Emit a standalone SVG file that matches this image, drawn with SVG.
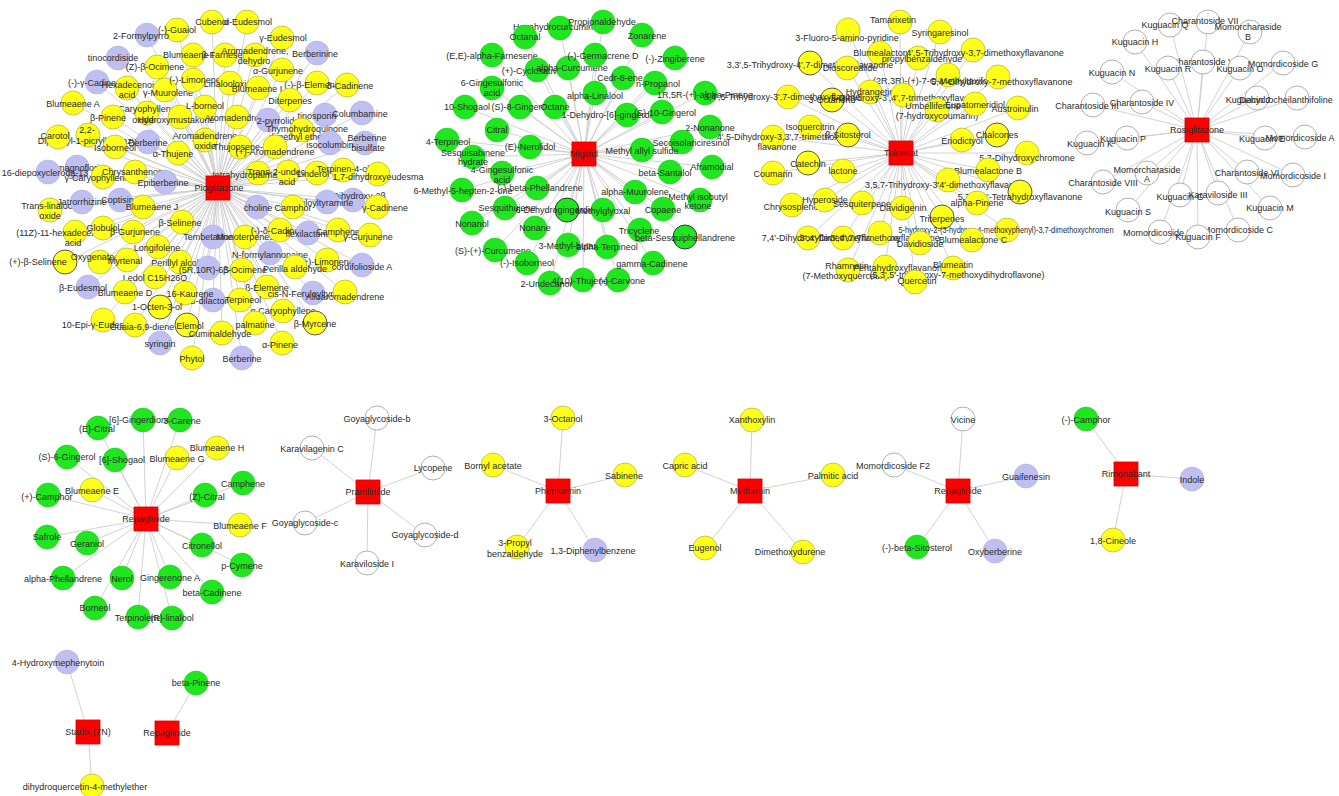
<svg xmlns="http://www.w3.org/2000/svg" width="1339" height="796" viewBox="0 0 1339 796">
<style>
.e line{stroke:#cdcdcd;stroke-width:0.9}
.y{fill:#ffff1a;stroke:#b8b840;stroke-width:0.8}
.yd{fill:#ffff1a;stroke:#555;stroke-width:1}
.p{fill:#bfbff2;stroke:#aeaee0;stroke-width:0.6}
.g{fill:#1fe61f;stroke:#1ac81a;stroke-width:0.6}
.gd{fill:#1fe61f;stroke:#333;stroke-width:1}
.w{fill:#fff;stroke:#9a9a9a;stroke-width:0.8}
.h{fill:#ff0000;stroke:#d40000;stroke-width:0.8}
text{font-family:"Liberation Sans",Arial,sans-serif;font-size:9px;fill:#2a2a2a;text-anchor:middle}
</style>
<rect width="1339" height="796" fill="#fff"/>
<g class="e" id="connectors">
<line x1="218" y1="188" x2="177" y2="30"/><line x1="218" y1="188" x2="147" y2="35"/><line x1="218" y1="188" x2="118" y2="58"/><line x1="218" y1="188" x2="157" y2="67"/><line x1="218" y1="188" x2="97" y2="82"/><line x1="218" y1="188" x2="127" y2="88"/><line x1="218" y1="188" x2="165" y2="90"/><line x1="218" y1="188" x2="193" y2="80"/><line x1="218" y1="188" x2="73" y2="103"/><line x1="218" y1="188" x2="147" y2="113"/><line x1="218" y1="188" x2="180" y2="117"/><line x1="218" y1="188" x2="113" y2="117"/><line x1="218" y1="188" x2="205" y2="107"/><line x1="218" y1="188" x2="88" y2="135"/><line x1="218" y1="188" x2="58" y2="137"/><line x1="218" y1="188" x2="115" y2="147"/><line x1="218" y1="188" x2="148" y2="142"/><line x1="218" y1="188" x2="178" y2="153"/><line x1="218" y1="188" x2="205" y2="140"/><line x1="218" y1="188" x2="77" y2="167"/><line x1="218" y1="188" x2="48" y2="172"/><line x1="218" y1="188" x2="103" y2="177"/><line x1="218" y1="188" x2="135" y2="172"/><line x1="218" y1="188" x2="165" y2="182"/><line x1="218" y1="188" x2="212" y2="22"/><line x1="218" y1="188" x2="247" y2="22"/><line x1="218" y1="188" x2="282" y2="38"/><line x1="218" y1="188" x2="193" y2="55"/><line x1="218" y1="188" x2="225" y2="55"/><line x1="218" y1="188" x2="255" y2="55"/><line x1="218" y1="188" x2="317" y2="53"/><line x1="218" y1="188" x2="282" y2="70"/><line x1="218" y1="188" x2="317" y2="83"/><line x1="218" y1="188" x2="347" y2="85"/><line x1="218" y1="188" x2="230" y2="83"/><line x1="218" y1="188" x2="258" y2="88"/><line x1="218" y1="188" x2="290" y2="100"/><line x1="218" y1="188" x2="325" y2="115"/><line x1="218" y1="188" x2="362" y2="113"/><line x1="218" y1="188" x2="237" y2="117"/><line x1="218" y1="188" x2="268" y2="120"/><line x1="218" y1="188" x2="302" y2="130"/><line x1="218" y1="188" x2="365" y2="143"/><line x1="218" y1="188" x2="330" y2="143"/><line x1="218" y1="188" x2="240" y2="147"/><line x1="218" y1="188" x2="275" y2="147"/><line x1="218" y1="188" x2="258" y2="173"/><line x1="218" y1="188" x2="288" y2="172"/><line x1="218" y1="188" x2="317" y2="173"/><line x1="218" y1="188" x2="343" y2="170"/><line x1="218" y1="188" x2="378" y2="174"/><line x1="218" y1="188" x2="353" y2="200"/><line x1="218" y1="188" x2="327" y2="202"/><line x1="218" y1="188" x2="293" y2="207"/><line x1="218" y1="188" x2="257" y2="207"/><line x1="218" y1="188" x2="377" y2="207"/><line x1="218" y1="188" x2="213" y2="237"/><line x1="218" y1="188" x2="245" y2="237"/><line x1="218" y1="188" x2="280" y2="230"/><line x1="218" y1="188" x2="308" y2="233"/><line x1="218" y1="188" x2="338" y2="230"/><line x1="218" y1="188" x2="370" y2="235"/><line x1="218" y1="188" x2="270" y2="253"/><line x1="218" y1="188" x2="327" y2="260"/><line x1="218" y1="188" x2="295" y2="267"/><line x1="218" y1="188" x2="362" y2="265"/><line x1="218" y1="188" x2="180" y2="262"/><line x1="218" y1="188" x2="208" y2="268"/><line x1="218" y1="188" x2="242" y2="270"/><line x1="218" y1="188" x2="267" y2="287"/><line x1="218" y1="188" x2="313" y2="293"/><line x1="218" y1="188" x2="345" y2="292"/><line x1="218" y1="188" x2="213" y2="300"/><line x1="218" y1="188" x2="240" y2="300"/><line x1="218" y1="188" x2="283" y2="311"/><line x1="218" y1="188" x2="315" y2="323"/><line x1="218" y1="188" x2="255" y2="323"/><line x1="218" y1="188" x2="187" y2="325"/><line x1="218" y1="188" x2="222" y2="333"/><line x1="218" y1="188" x2="282" y2="343"/><line x1="218" y1="188" x2="192" y2="358"/><line x1="218" y1="188" x2="242" y2="358"/><line x1="218" y1="188" x2="185" y2="293"/><line x1="218" y1="188" x2="50" y2="210"/><line x1="218" y1="188" x2="82" y2="202"/><line x1="218" y1="188" x2="120" y2="200"/><line x1="218" y1="188" x2="143" y2="207"/><line x1="218" y1="188" x2="182" y2="222"/><line x1="218" y1="188" x2="75" y2="232"/><line x1="218" y1="188" x2="103" y2="228"/><line x1="218" y1="188" x2="133" y2="232"/><line x1="218" y1="188" x2="158" y2="247"/><line x1="218" y1="188" x2="65" y2="262"/><line x1="218" y1="188" x2="100" y2="262"/><line x1="218" y1="188" x2="127" y2="260"/><line x1="218" y1="188" x2="155" y2="277"/><line x1="218" y1="188" x2="88" y2="287"/><line x1="218" y1="188" x2="125" y2="292"/><line x1="218" y1="188" x2="160" y2="307"/><line x1="218" y1="188" x2="103" y2="320"/><line x1="218" y1="188" x2="135" y2="325"/><line x1="218" y1="188" x2="160" y2="343"/>
<line x1="584" y1="154" x2="560" y2="28"/><line x1="584" y1="154" x2="603" y2="22"/><line x1="584" y1="154" x2="525" y2="37"/><line x1="584" y1="154" x2="492" y2="55"/><line x1="584" y1="154" x2="537" y2="70"/><line x1="584" y1="154" x2="568" y2="68"/><line x1="584" y1="154" x2="595" y2="55"/><line x1="584" y1="154" x2="492" y2="88"/><line x1="584" y1="154" x2="595" y2="93"/><line x1="584" y1="154" x2="465" y2="107"/><line x1="584" y1="154" x2="520" y2="107"/><line x1="584" y1="154" x2="555" y2="107"/><line x1="584" y1="154" x2="497" y2="130"/><line x1="584" y1="154" x2="447" y2="140"/><line x1="584" y1="154" x2="530" y2="147"/><line x1="584" y1="154" x2="473" y2="157"/><line x1="584" y1="154" x2="502" y2="173"/><line x1="584" y1="154" x2="462" y2="190"/><line x1="584" y1="154" x2="537" y2="188"/><line x1="584" y1="154" x2="505" y2="208"/><line x1="584" y1="154" x2="567" y2="210"/><line x1="584" y1="154" x2="603" y2="210"/><line x1="584" y1="154" x2="472" y2="223"/><line x1="584" y1="154" x2="535" y2="228"/><line x1="584" y1="154" x2="568" y2="245"/><line x1="584" y1="154" x2="607" y2="247"/><line x1="584" y1="154" x2="495" y2="250"/><line x1="584" y1="154" x2="527" y2="263"/><line x1="584" y1="154" x2="550" y2="283"/><line x1="584" y1="154" x2="583" y2="280"/><line x1="584" y1="154" x2="618" y2="280"/><line x1="584" y1="154" x2="642" y2="35"/><line x1="584" y1="154" x2="675" y2="58"/><line x1="584" y1="154" x2="623" y2="78"/><line x1="584" y1="154" x2="655" y2="83"/><line x1="584" y1="154" x2="705" y2="93"/><line x1="584" y1="154" x2="627" y2="115"/><line x1="584" y1="154" x2="662" y2="112"/><line x1="584" y1="154" x2="710" y2="127"/><line x1="584" y1="154" x2="682" y2="142"/><line x1="584" y1="154" x2="642" y2="150"/><line x1="584" y1="154" x2="712" y2="167"/><line x1="584" y1="154" x2="670" y2="172"/><line x1="584" y1="154" x2="635" y2="192"/><line x1="584" y1="154" x2="700" y2="200"/><line x1="584" y1="154" x2="663" y2="209"/><line x1="584" y1="154" x2="640" y2="230"/><line x1="584" y1="154" x2="685" y2="237"/><line x1="584" y1="154" x2="653" y2="263"/>
<line x1="901" y1="153" x2="900" y2="22"/><line x1="901" y1="153" x2="848" y2="30"/><line x1="901" y1="153" x2="880" y2="53"/><line x1="901" y1="153" x2="918" y2="58"/><line x1="901" y1="153" x2="973" y2="50"/><line x1="901" y1="153" x2="810" y2="63"/><line x1="901" y1="153" x2="847" y2="68"/><line x1="901" y1="153" x2="940" y2="32"/><line x1="901" y1="153" x2="948" y2="75"/><line x1="901" y1="153" x2="998" y2="77"/><line x1="901" y1="153" x2="870" y2="92"/><line x1="901" y1="153" x2="832" y2="100"/><line x1="901" y1="153" x2="788" y2="97"/><line x1="901" y1="153" x2="903" y2="95"/><line x1="901" y1="153" x2="937" y2="110"/><line x1="901" y1="153" x2="975" y2="104"/><line x1="901" y1="153" x2="1018" y2="108"/><line x1="901" y1="153" x2="810" y2="127"/><line x1="901" y1="153" x2="773" y2="137"/><line x1="901" y1="153" x2="848" y2="135"/><line x1="901" y1="153" x2="808" y2="163"/><line x1="901" y1="153" x2="773" y2="173"/><line x1="901" y1="153" x2="843" y2="171"/><line x1="901" y1="153" x2="962" y2="140"/><line x1="901" y1="153" x2="997" y2="135"/><line x1="901" y1="153" x2="1027" y2="153"/><line x1="901" y1="153" x2="988" y2="170"/><line x1="901" y1="153" x2="948" y2="180"/><line x1="901" y1="153" x2="1020" y2="192"/><line x1="901" y1="153" x2="977" y2="203"/><line x1="901" y1="153" x2="902" y2="208"/><line x1="901" y1="153" x2="792" y2="205"/><line x1="901" y1="153" x2="825" y2="200"/><line x1="901" y1="153" x2="862" y2="203"/><line x1="901" y1="153" x2="942" y2="217"/><line x1="901" y1="153" x2="1007" y2="230"/><line x1="901" y1="153" x2="808" y2="238"/><line x1="901" y1="153" x2="843" y2="238"/><line x1="901" y1="153" x2="880" y2="233"/><line x1="901" y1="153" x2="920" y2="243"/><line x1="901" y1="153" x2="972" y2="240"/><line x1="901" y1="153" x2="848" y2="270"/><line x1="901" y1="153" x2="885" y2="267"/><line x1="901" y1="153" x2="953" y2="268"/><line x1="901" y1="153" x2="915" y2="282"/>
<line x1="1197" y1="130" x2="1170" y2="25"/><line x1="1197" y1="130" x2="1208" y2="22"/><line x1="1197" y1="130" x2="1250" y2="32"/><line x1="1197" y1="130" x2="1135" y2="42"/><line x1="1197" y1="130" x2="1203" y2="62"/><line x1="1197" y1="130" x2="1168" y2="68"/><line x1="1197" y1="130" x2="1240" y2="68"/><line x1="1197" y1="130" x2="1283" y2="63"/><line x1="1197" y1="130" x2="1112" y2="72"/><line x1="1197" y1="130" x2="1093" y2="105"/><line x1="1197" y1="130" x2="1142" y2="102"/><line x1="1197" y1="130" x2="1257" y2="98"/><line x1="1197" y1="130" x2="1297" y2="98"/><line x1="1197" y1="130" x2="1087" y2="143"/><line x1="1197" y1="130" x2="1127" y2="138"/><line x1="1197" y1="130" x2="1265" y2="138"/><line x1="1197" y1="130" x2="1305" y2="137"/><line x1="1197" y1="130" x2="1147" y2="173"/><line x1="1197" y1="130" x2="1103" y2="182"/><line x1="1197" y1="130" x2="1247" y2="172"/><line x1="1197" y1="130" x2="1293" y2="175"/><line x1="1197" y1="130" x2="1180" y2="195"/><line x1="1197" y1="130" x2="1218" y2="193"/><line x1="1197" y1="130" x2="1270" y2="208"/><line x1="1197" y1="130" x2="1128" y2="210"/><line x1="1197" y1="130" x2="1238" y2="230"/><line x1="1197" y1="130" x2="1160" y2="232"/><line x1="1197" y1="130" x2="1198" y2="237"/>
<line x1="146" y1="519" x2="98" y2="428"/><line x1="146" y1="519" x2="143" y2="420"/><line x1="146" y1="519" x2="180" y2="420"/><line x1="146" y1="519" x2="67" y2="457"/><line x1="146" y1="519" x2="115" y2="460"/><line x1="146" y1="519" x2="177" y2="458"/><line x1="146" y1="519" x2="217" y2="448"/><line x1="146" y1="519" x2="92" y2="490"/><line x1="146" y1="519" x2="48" y2="495"/><line x1="146" y1="519" x2="243" y2="483"/><line x1="146" y1="519" x2="205" y2="495"/><line x1="146" y1="519" x2="240" y2="525"/><line x1="146" y1="519" x2="47" y2="537"/><line x1="146" y1="519" x2="87" y2="543"/><line x1="146" y1="519" x2="202" y2="545"/><line x1="146" y1="519" x2="242" y2="565"/><line x1="146" y1="519" x2="63" y2="578"/><line x1="146" y1="519" x2="122" y2="578"/><line x1="146" y1="519" x2="170" y2="577"/><line x1="146" y1="519" x2="212" y2="592"/><line x1="146" y1="519" x2="95" y2="608"/><line x1="146" y1="519" x2="138" y2="617"/><line x1="146" y1="519" x2="172" y2="618"/>
<line x1="368" y1="492" x2="377" y2="418"/><line x1="368" y1="492" x2="312" y2="448"/><line x1="368" y1="492" x2="433" y2="468"/><line x1="368" y1="492" x2="305" y2="523"/><line x1="368" y1="492" x2="425" y2="535"/><line x1="368" y1="492" x2="367" y2="563"/>
<line x1="558" y1="491" x2="563" y2="418"/><line x1="558" y1="491" x2="493" y2="465"/><line x1="558" y1="491" x2="625" y2="475"/><line x1="558" y1="491" x2="517" y2="547"/><line x1="558" y1="491" x2="595" y2="550"/>
<line x1="750" y1="491" x2="752" y2="420"/><line x1="750" y1="491" x2="685" y2="465"/><line x1="750" y1="491" x2="833" y2="475"/><line x1="750" y1="491" x2="705" y2="548"/><line x1="750" y1="491" x2="803" y2="552"/>
<line x1="958" y1="491" x2="963" y2="419"/><line x1="958" y1="491" x2="894" y2="465"/><line x1="958" y1="491" x2="1026" y2="476"/><line x1="958" y1="491" x2="917" y2="547"/><line x1="958" y1="491" x2="995" y2="551"/>
<line x1="1126" y1="474" x2="1086" y2="419"/><line x1="1126" y1="474" x2="1192" y2="479"/><line x1="1126" y1="474" x2="1113" y2="540"/>
<line x1="88" y1="732" x2="67" y2="662"/><line x1="88" y1="732" x2="92" y2="786"/><line x1="167" y1="733" x2="196" y2="683"/>
</g>

<g id="pioglitazone-nodes">
<g id="pio_1"><circle class="y" cx="177" cy="30" r="12"/><text x="177" y="33">(-)-Guaiol</text></g>
<g id="pio_2"><circle class="p" cx="147" cy="35" r="12"/><text x="141" y="39">2-Formylpyrro</text></g>
<g id="pio_3"><circle class="p" cx="118" cy="58" r="12"/><text x="113" y="61">tinocordiside</text></g>
<g id="pio_4"><circle class="y" cx="157" cy="67" r="12"/><text x="155" y="70">(Z)-β-Ocimene</text></g>
<g id="pio_5"><circle class="p" cx="97" cy="82" r="12"/><text x="97" y="86">(-)-γ-Cadinene</text></g>
<g id="pio_6"><circle class="y" cx="127" cy="88" r="12"/><text x="130" y="88">Hexadecenoic</text><text x="127" y="98">acid</text></g>
<g id="pio_7"><circle class="y" cx="165" cy="90" r="12"/><text x="168" y="96">γ-Muurolene</text></g>
<g id="pio_8"><circle class="y" cx="193" cy="80" r="12"/><text x="195" y="83">(-)-Limonene</text></g>
<g id="pio_9"><circle class="y" cx="73" cy="103" r="12"/><text x="73" y="107">Blumeaene A</text></g>
<g id="pio_10"><circle class="y" cx="147" cy="113" r="12"/><text x="147" y="112">Caryophyllene</text><text x="143" y="123">oxide</text></g>
<g id="pio_11"><circle class="y" cx="180" cy="117" r="12"/><text x="176" y="123">Hydroxymustakone</text></g>
<g id="pio_12"><circle class="y" cx="113" cy="117" r="12"/><text x="108" y="121">β-Pinene</text></g>
<g id="pio_13"><circle class="y" cx="205" cy="107" r="12"/><text x="205" y="109">L-borneol</text></g>
<g id="pio_14"><circle class="y" cx="88" cy="135" r="12"/><text x="87" y="133">2,2-</text><text x="88" y="144">Diphenyl-1-picrylhydrazyl</text></g>
<g id="pio_15"><circle class="y" cx="58" cy="137" r="12"/><text x="55" y="139">Carotol</text></g>
<g id="pio_16"><circle class="y" cx="115" cy="147" r="12"/><text x="115" y="151">Isoborneol</text></g>
<g id="pio_17"><circle class="p" cx="148" cy="142" r="12"/><text x="148" y="146">Berberine</text></g>
<g id="pio_18"><circle class="y" cx="178" cy="153" r="12"/><text x="173" y="157">α-Thujene</text></g>
<g id="pio_19"><circle class="y" cx="205" cy="140" r="12"/><text x="205" y="139">Aromadendrene</text><text x="205" y="149">oxide</text></g>
<g id="pio_20"><circle class="p" cx="77" cy="167" r="12"/><text x="83" y="171">magnoflorine</text></g>
<g id="pio_21"><circle class="p" cx="48" cy="172" r="12"/><text x="45" y="176">16-diepoxycleroda-13</text></g>
<g id="pio_22"><circle class="y" cx="103" cy="177" r="12"/><text x="97" y="181">γ-Caryophyllene</text></g>
<g id="pio_23"><circle class="y" cx="135" cy="172" r="12"/><text x="135" y="175">Chrysanthenone</text></g>
<g id="pio_24"><circle class="p" cx="165" cy="182" r="12"/><text x="163" y="186">Epiberberine</text></g>
<g id="pio_25"><circle class="y" cx="212" cy="22" r="12"/><text x="212" y="25">Cubenol</text></g>
<g id="pio_26"><circle class="y" cx="247" cy="22" r="12"/><text x="248" y="25">α-Eudesmol</text></g>
<g id="pio_27"><circle class="y" cx="282" cy="38" r="12"/><text x="283" y="41">γ-Eudesmol</text></g>
<g id="pio_28"><circle class="y" cx="193" cy="55" r="12"/><text x="190" y="58">Blumeaene B</text></g>
<g id="pio_29"><circle class="y" cx="225" cy="55" r="12"/><text x="227" y="58">β-Farnesene</text></g>
<g id="pio_30"><circle class="y" cx="255" cy="55" r="12"/><text x="255" y="54">Aromadendrene,</text><text x="254" y="64">dehydro</text></g>
<g id="pio_31"><circle class="p" cx="317" cy="53" r="12"/><text x="315" y="57">Berberinine</text></g>
<g id="pio_32"><circle class="y" cx="282" cy="70" r="12"/><text x="278" y="74">α-Gurjunene</text></g>
<g id="pio_33"><circle class="y" cx="317" cy="83" r="12"/><text x="312" y="88">(-)-β-Elemene</text></g>
<g id="pio_34"><circle class="y" cx="347" cy="85" r="12"/><text x="350" y="89">δ-Cadinene</text></g>
<g id="pio_35"><circle class="y" cx="230" cy="83" r="12"/><text x="230" y="87">Linalooloxide</text></g>
<g id="pio_36"><circle class="y" cx="258" cy="88" r="12"/><text x="257" y="92">Blumeaene I</text></g>
<g id="pio_37"><circle class="y" cx="290" cy="100" r="12"/><text x="290" y="104">Diterpenes</text></g>
<g id="pio_38"><circle class="p" cx="325" cy="115" r="12"/><text x="317" y="119">tinosporin</text></g>
<g id="pio_39"><circle class="p" cx="362" cy="113" r="12"/><text x="360" y="117">Columbamine</text></g>
<g id="pio_40"><circle class="y" cx="237" cy="117" r="12"/><text x="237" y="121">Aromadendrene</text></g>
<g id="pio_41"><circle class="p" cx="268" cy="120" r="12"/><text x="283" y="124">2-pyrrolidone</text></g>
<g id="pio_42"><circle class="y" cx="302" cy="130" r="12"/><text x="307" y="132">Thymohydroquinone</text><text x="297" y="140">dimethyl ether</text></g>
<g id="pio_43"><circle class="p" cx="365" cy="143" r="12"/><text x="367" y="141">Berberine</text><text x="368" y="151">bisulfate</text></g>
<g id="pio_44"><circle class="p" cx="330" cy="143" r="12"/><text x="330" y="148">isocolumbin</text></g>
<g id="pio_45"><circle class="y" cx="240" cy="147" r="12"/><text x="243" y="150">Thujopsene-13</text></g>
<g id="pio_46"><circle class="y" cx="275" cy="147" r="12"/><text x="275" y="155">(+)-Aromadendrene</text></g>
<g id="pio_47"><circle class="y" cx="258" cy="173" r="12"/><text x="252" y="178">tetrahydropalmatine</text></g>
<g id="pio_48"><circle class="y" cx="288" cy="172" r="12"/><text x="287" y="175">Trans-2-undecenoic</text><text x="287" y="185">acid</text></g>
<g id="pio_49"><circle class="y" cx="317" cy="173" r="12"/><text x="313" y="177">Linderol</text></g>
<g id="pio_50"><circle class="y" cx="343" cy="170" r="12"/><text x="343" y="172">Terpinen-4-ol</text></g>
<g id="pio_51"><circle class="y" cx="378" cy="174" r="12"/><text x="378" y="180">1,7-dihydroxyeudesma</text></g>
<g id="pio_52"><circle class="p" cx="353" cy="200" r="12"/><text x="355" y="199">1-Dihydroxy-2β</text></g>
<g id="pio_53"><circle class="p" cx="327" cy="202" r="12"/><text x="320" y="206">Feruloyltyramine</text></g>
<g id="pio_54"><circle class="y" cx="293" cy="207" r="12"/><text x="293" y="211">Camphor</text></g>
<g id="pio_55"><circle class="p" cx="257" cy="207" r="12"/><text x="258" y="211">choline</text></g>
<g id="pio_56"><circle class="y" cx="377" cy="207" r="12"/><text x="385" y="211">γ-Cadinene</text></g>
<g id="pio_57"><circle class="p" cx="213" cy="237" r="12"/><text x="208" y="240">Tembetarine</text></g>
<g id="pio_58"><circle class="y" cx="245" cy="237" r="12"/><text x="245" y="240">Monoterpenes</text></g>
<g id="pio_59"><circle class="y" cx="280" cy="230" r="12"/><text x="280" y="234">(-)-δ-Cadinene</text></g>
<g id="pio_60"><circle class="p" cx="308" cy="233" r="12"/><text x="308" y="237">flexilactone</text></g>
<g id="pio_61"><circle class="y" cx="338" cy="230" r="12"/><text x="338" y="235">Camphene</text></g>
<g id="pio_62"><circle class="y" cx="370" cy="235" r="12"/><text x="368" y="240">γ-Gurjunene</text></g>
<g id="pio_63"><circle class="p" cx="270" cy="253" r="12"/><text x="270" y="258">N-formylannonaine</text></g>
<g id="pio_64"><circle class="y" cx="327" cy="260" r="12"/><text x="327" y="265">(+)-Limonene</text></g>
<g id="pio_65"><circle class="y" cx="295" cy="267" r="12"/><text x="295" y="272">Perilla aldehyde</text></g>
<g id="pio_66"><circle class="p" cx="362" cy="265" r="12"/><text x="362" y="270">cordifolioside A</text></g>
<g id="pio_67"><circle class="y" cx="180" cy="262" r="12"/><text x="180" y="266">Perillyl alcohol</text></g>
<g id="pio_68"><circle class="p" cx="208" cy="268" r="12"/><text x="204" y="273">(5R,10R)-6S</text></g>
<g id="pio_69"><circle class="y" cx="242" cy="270" r="12"/><text x="245" y="273">β-Ocimene</text></g>
<g id="pio_70"><circle class="y" cx="267" cy="287" r="12"/><text x="267" y="291">β-Elemene</text></g>
<g id="pio_71"><circle class="p" cx="313" cy="293" r="12"/><text x="303" y="297">cis-N-Feruloyltyra</text></g>
<g id="pio_72"><circle class="y" cx="345" cy="292" r="12"/><text x="345" y="300">Alloaromadendrene</text></g>
<g id="pio_73"><circle class="p" cx="213" cy="300" r="12"/><text x="212" y="304">S-dilactone</text></g>
<g id="pio_74"><circle class="y" cx="240" cy="300" r="12"/><text x="243" y="303">Terpineol</text></g>
<g id="pio_75"><circle class="y" cx="283" cy="311" r="12"/><text x="283" y="314">α-Caryophyllene</text></g>
<g id="pio_76"><circle class="yd" cx="315" cy="323" r="12"/><text x="315" y="327">β-Myrcene</text></g>
<g id="pio_77"><circle class="y" cx="255" cy="323" r="12"/><text x="255" y="328">palmatine</text></g>
<g id="pio_78"><circle class="yd" cx="187" cy="325" r="12"/><text x="190" y="329">Elemol</text></g>
<g id="pio_79"><circle class="y" cx="222" cy="333" r="12"/><text x="220" y="337">Cuminaldehyde</text></g>
<g id="pio_80"><circle class="y" cx="282" cy="343" r="12"/><text x="280" y="348">α-Pinene</text></g>
<g id="pio_81"><circle class="y" cx="192" cy="358" r="12"/><text x="192" y="362">Phytol</text></g>
<g id="pio_82"><circle class="p" cx="242" cy="358" r="12"/><text x="242" y="362">Berberine</text></g>
<g id="pio_83"><circle class="y" cx="185" cy="293" r="12"/><text x="190" y="297">16-Kaurene</text></g>
<g id="pio_84"><circle class="y" cx="50" cy="210" r="12"/><text x="48" y="209">Trans-linalool</text><text x="50" y="219">oxide</text></g>
<g id="pio_85"><circle class="p" cx="82" cy="202" r="12"/><text x="82" y="205">Jatrorrhizine</text></g>
<g id="pio_86"><circle class="p" cx="120" cy="200" r="12"/><text x="120" y="203">Coptisine</text></g>
<g id="pio_87"><circle class="y" cx="143" cy="207" r="12"/><text x="152" y="210">Blumeaene J</text></g>
<g id="pio_88"><circle class="y" cx="182" cy="222" r="12"/><text x="180" y="226">β-Selinene</text></g>
<g id="pio_89"><circle class="y" cx="75" cy="232" r="12"/><text x="62" y="236">(11Z)-11-hexadecenoic</text><text x="73" y="246">acid</text></g>
<g id="pio_90"><circle class="y" cx="103" cy="228" r="12"/><text x="103" y="231">Globulol</text></g>
<g id="pio_91"><circle class="y" cx="133" cy="232" r="12"/><text x="135" y="235">β-Gurjunene</text></g>
<g id="pio_92"><circle class="y" cx="158" cy="247" r="12"/><text x="157" y="251">Longifolene</text></g>
<g id="pio_93"><circle class="yd" cx="65" cy="262" r="12"/><text x="38" y="265">(+)-β-Selinene</text></g>
<g id="pio_94"><circle class="y" cx="100" cy="262" r="12"/><text x="95" y="260">Oxygenated</text></g>
<g id="pio_95"><circle class="y" cx="127" cy="260" r="12"/><text x="125" y="264">Myrtenal</text></g>
<g id="pio_96"><circle class="y" cx="155" cy="277" r="12"/><text x="155" y="281">Ledol C15H26O</text></g>
<g id="pio_97"><circle class="p" cx="88" cy="287" r="12"/><text x="83" y="291">β-Eudesmol</text></g>
<g id="pio_98"><circle class="y" cx="125" cy="292" r="12"/><text x="125" y="296">Blumeaene D</text></g>
<g id="pio_99"><circle class="yd" cx="160" cy="307" r="12"/><text x="157" y="310">1-Octen-3-ol</text></g>
<g id="pio_100"><circle class="y" cx="103" cy="320" r="12"/><text x="100" y="328">10-Epi-γ-Eudesmol</text></g>
<g id="pio_101"><circle class="y" cx="135" cy="325" r="12"/><text x="142" y="330">Guaia-6,9-diene</text></g>
<g id="pio_102"><circle class="p" cx="160" cy="343" r="12"/><text x="160" y="347">syringin</text></g>
<g id="pio_hub"><rect class="h" x="206" y="176" width="24" height="24"/><text x="219" y="191">Pioglitazone</text></g>
</g>

<g id="miglitol-nodes">
<g id="mig_1"><circle class="g" cx="560" cy="28" r="12"/><text x="553" y="30">Hexahydrocurcumin</text></g>
<g id="mig_2"><circle class="g" cx="603" cy="22" r="12"/><text x="602" y="25">Propionaldehyde</text></g>
<g id="mig_3"><circle class="g" cx="525" cy="37" r="12"/><text x="525" y="40">Octanal</text></g>
<g id="mig_4"><circle class="g" cx="492" cy="55" r="12"/><text x="492" y="59">(E,E)-alpha-Farnesene</text></g>
<g id="mig_5"><circle class="g" cx="537" cy="70" r="12"/><text x="537" y="74">(+)-Cyclosativene</text></g>
<g id="mig_6"><circle class="g" cx="568" cy="68" r="12"/><text x="572" y="71">alpha-Curcumene</text></g>
<g id="mig_7"><circle class="g" cx="595" cy="55" r="12"/><text x="603" y="59">(-)-Germacrene D</text></g>
<g id="mig_8"><circle class="g" cx="492" cy="88" r="12"/><text x="492" y="86">6-Gingesulfonic</text><text x="492" y="96">acid</text></g>
<g id="mig_9"><circle class="g" cx="595" cy="93" r="12"/><text x="595" y="99">alpha-Linalool</text></g>
<g id="mig_10"><circle class="g" cx="465" cy="107" r="12"/><text x="467" y="110">10-Shogaol</text></g>
<g id="mig_11"><circle class="g" cx="520" cy="107" r="12"/><text x="520" y="110">(S)-8-Gingerol</text></g>
<g id="mig_12"><circle class="g" cx="555" cy="107" r="12"/><text x="555" y="110">Octane</text></g>
<g id="mig_13"><circle class="g" cx="497" cy="130" r="12"/><text x="497" y="133">Citral</text></g>
<g id="mig_14"><circle class="g" cx="447" cy="140" r="12"/><text x="448" y="145">4-Terpineol</text></g>
<g id="mig_15"><circle class="g" cx="530" cy="147" r="12"/><text x="530" y="150">(E)-Nerolidol</text></g>
<g id="mig_16"><circle class="g" cx="473" cy="157" r="12"/><text x="473" y="156">Sesquisabinene</text><text x="473" y="165">hydrate</text></g>
<g id="mig_17"><circle class="g" cx="502" cy="173" r="12"/><text x="502" y="173">4-Gingesulfonic</text><text x="502" y="183">acid</text></g>
<g id="mig_18"><circle class="g" cx="462" cy="190" r="12"/><text x="463" y="194">6-Methyl-5-hepten-2-one</text></g>
<g id="mig_19"><circle class="g" cx="537" cy="188" r="12"/><text x="540" y="191">(-)-beta-Phellandrene</text></g>
<g id="mig_20"><circle class="g" cx="505" cy="208" r="12"/><text x="507" y="211">Sesquithujene</text></g>
<g id="mig_21"><circle class="gd" cx="567" cy="210" r="12"/><text x="560" y="213">6-Dehydrogingerdione</text></g>
<g id="mig_22"><circle class="g" cx="603" cy="210" r="12"/><text x="603" y="214">Methylglyoxal</text></g>
<g id="mig_23"><circle class="g" cx="472" cy="223" r="12"/><text x="472" y="227">Nonanol</text></g>
<g id="mig_24"><circle class="g" cx="535" cy="228" r="12"/><text x="535" y="231">Nonane</text></g>
<g id="mig_25"><circle class="g" cx="568" cy="245" r="12"/><text x="572" y="249">3-Methyl-butanal</text></g>
<g id="mig_26"><circle class="g" cx="607" cy="247" r="12"/><text x="607" y="250">alpha-Terpineol</text></g>
<g id="mig_27"><circle class="g" cx="495" cy="250" r="12"/><text x="493" y="254">(S)-(+)-Curcumene</text></g>
<g id="mig_28"><circle class="g" cx="527" cy="263" r="12"/><text x="527" y="266">(-)-Isoborneol</text></g>
<g id="mig_29"><circle class="g" cx="550" cy="283" r="12"/><text x="550" y="287">2-Undecanone</text></g>
<g id="mig_30"><circle class="g" cx="583" cy="280" r="12"/><text x="580" y="284">4(10)-Thujene</text></g>
<g id="mig_31"><circle class="g" cx="618" cy="280" r="12"/><text x="622" y="284">(-)-Carvone</text></g>
<g id="mig_32"><circle class="g" cx="642" cy="35" r="12"/><text x="647" y="39">Zonarene</text></g>
<g id="mig_33"><circle class="g" cx="675" cy="58" r="12"/><text x="675" y="62">(-)-Zingiberene</text></g>
<g id="mig_34"><circle class="g" cx="623" cy="78" r="12"/><text x="620" y="81">Cedr-8-ene</text></g>
<g id="mig_35"><circle class="g" cx="655" cy="83" r="12"/><text x="658" y="87">n-Propanol</text></g>
<g id="mig_36"><circle class="g" cx="705" cy="93" r="12"/><text x="705" y="98">1R,5R-(+)-alpha-Pinene</text></g>
<g id="mig_37"><circle class="g" cx="627" cy="115" r="12"/><text x="614" y="118">1-Dehydro-[6]-gingerdione</text></g>
<g id="mig_38"><circle class="g" cx="662" cy="112" r="12"/><text x="665" y="116">(S)-10-Gingerol</text></g>
<g id="mig_39"><circle class="g" cx="710" cy="127" r="12"/><text x="710" y="131">2-Nonanone</text></g>
<g id="mig_40"><circle class="g" cx="682" cy="142" r="12"/><text x="685" y="146">(-)-Secoisolariciresinol</text></g>
<g id="mig_41"><circle class="g" cx="642" cy="150" r="12"/><text x="642" y="154">Methyl allyl sulfide</text></g>
<g id="mig_42"><circle class="g" cx="712" cy="167" r="12"/><text x="712" y="170">Aframodial</text></g>
<g id="mig_43"><circle class="g" cx="670" cy="172" r="12"/><text x="665" y="176">beta-Santalol</text></g>
<g id="mig_44"><circle class="g" cx="635" cy="192" r="12"/><text x="635" y="195">alpha-Muurolene</text></g>
<g id="mig_45"><circle class="g" cx="700" cy="200" r="12"/><text x="698" y="200">Methyl isobutyl</text><text x="698" y="209">ketone</text></g>
<g id="mig_46"><circle class="g" cx="663" cy="209" r="12"/><text x="663" y="213">Copaene</text></g>
<g id="mig_47"><circle class="g" cx="640" cy="230" r="12"/><text x="639" y="234">Tricyclene</text></g>
<g id="mig_48"><circle class="gd" cx="685" cy="237" r="12"/><text x="685" y="241">beta-Sesquiphellandrene</text></g>
<g id="mig_49"><circle class="g" cx="653" cy="263" r="12"/><text x="652" y="267">gamma-Cadinene</text></g>
<g id="mig_hub"><rect class="h" x="572" y="142" width="24" height="24"/><text x="584" y="157">Miglitol</text></g>
</g>

<g id="tolrestat-nodes">
<g id="tol_1"><circle class="y" cx="900" cy="22" r="12"/><text x="893" y="23">Tamarixetin</text></g>
<g id="tol_2"><circle class="y" cx="848" cy="30" r="12"/><text x="847" y="41">3-Fluoro-5-amino-pyridine</text></g>
<g id="tol_3"><circle class="y" cx="880" cy="53" r="12"/><text x="887" y="56">Blumealactone A</text></g>
<g id="tol_4"><circle class="y" cx="918" cy="58" r="12"/><text x="922" y="62">propylbenzaldehyde</text></g>
<g id="tol_5"><circle class="y" cx="973" cy="50" r="12"/><text x="985" y="56">4',5-Trihydroxy-3,7-dimethoxyflavanone</text></g>
<g id="tol_6"><circle class="yd" cx="810" cy="63" r="12"/><text x="810" y="68">3,3',5-Trihydroxy-4',7-dimethoxyflavanone</text></g>
<g id="tol_7"><circle class="y" cx="847" cy="68" r="12"/><text x="850" y="71">Dioscorealide</text></g>
<g id="tol_8"><circle class="y" cx="940" cy="32" r="12"/><text x="940" y="36">Syringaresinol</text></g>
<g id="tol_9"><circle class="y" cx="948" cy="75" r="12"/><text x="935" y="84">(2R,3R)-(+)-7-O-Methyltaxifolin</text></g>
<g id="tol_10"><circle class="y" cx="998" cy="77" r="12"/><text x="1002" y="85">5,4'-Dihydroxy-7-methoxyflavanone</text></g>
<g id="tol_11"><circle class="y" cx="870" cy="92" r="12"/><text x="870" y="95">Hydrangetin</text></g>
<g id="tol_12"><circle class="yd" cx="832" cy="100" r="12"/><text x="832" y="103">3-Octanone</text></g>
<g id="tol_13"><circle class="y" cx="788" cy="97" r="12"/><text x="782" y="100">3,4',5-Trihydroxy-3',7-dimethoxyflavone</text></g>
<g id="tol_14"><circle class="y" cx="903" cy="95" r="12"/><text x="905" y="101">5-Dihydroxy-3',4',7-trimethoxyflavone</text></g>
<g id="tol_15"><circle class="y" cx="937" cy="110" r="12"/><text x="933" y="109">Umbelliferone</text><text x="937" y="119">(7-hydroxycoumarin)</text></g>
<g id="tol_16"><circle class="y" cx="975" cy="104" r="12"/><text x="975" y="108">Eupatomeridiol</text></g>
<g id="tol_17"><circle class="y" cx="1018" cy="108" r="12"/><text x="1015" y="112">Austroinulin</text></g>
<g id="tol_18"><circle class="y" cx="810" cy="127" r="12"/><text x="810" y="130">Isoquercitrin</text></g>
<g id="tol_19"><circle class="y" cx="773" cy="137" r="12"/><text x="780" y="140">4',5-Dihydroxy-3,3',7-trimethoxy</text><text x="777" y="150">flavanone</text></g>
<g id="tol_20"><circle class="yd" cx="848" cy="135" r="12"/><text x="848" y="138">β-Sitosterol</text></g>
<g id="tol_21"><circle class="yd" cx="808" cy="163" r="12"/><text x="808" y="167">Catechin</text></g>
<g id="tol_22"><circle class="y" cx="773" cy="173" r="12"/><text x="773" y="177">Coumarin</text></g>
<g id="tol_23"><circle class="y" cx="843" cy="171" r="12"/><text x="843" y="174">lactone</text></g>
<g id="tol_24"><circle class="y" cx="962" cy="140" r="12"/><text x="962" y="144">Eriodictyol</text></g>
<g id="tol_25"><circle class="yd" cx="997" cy="135" r="12"/><text x="997" y="138">Chalcones</text></g>
<g id="tol_26"><circle class="y" cx="1027" cy="153" r="12"/><text x="1027" y="161">5,7-Dihydroxychromone</text></g>
<g id="tol_27"><circle class="y" cx="988" cy="170" r="12"/><text x="988" y="174">Blumealactone B</text></g>
<g id="tol_28"><circle class="y" cx="948" cy="180" r="12"/><text x="947" y="188">3,5,7-Trihydroxy-3'4'-dimethoxyflavanone</text></g>
<g id="tol_29"><circle class="yd" cx="1020" cy="192" r="12"/><text x="1020" y="200">5,7,3',5'-Tetrahydroxyflavanone</text></g>
<g id="tol_30"><circle class="y" cx="977" cy="203" r="12"/><text x="977" y="206">alpha-Pinene</text></g>
<g id="tol_31"><circle class="y" cx="902" cy="208" r="12"/><text x="903" y="211">Davidigenin</text></g>
<g id="tol_32"><circle class="y" cx="792" cy="205" r="12"/><text x="792" y="210">Chrysosplenol</text></g>
<g id="tol_33"><circle class="y" cx="825" cy="200" r="12"/><text x="825" y="203">Hyperoside</text></g>
<g id="tol_34"><circle class="y" cx="862" cy="203" r="12"/><text x="862" y="207">Sesquiterpene</text></g>
<g id="tol_35"><circle class="yd" cx="942" cy="217" r="12"/><text x="942" y="222">Triterpenes</text></g>
<g id="tol_36"><circle class="y" cx="1007" cy="230" r="12"/><text x="1006" y="233" textLength="215" lengthAdjust="spacingAndGlyphs">5-hydroxy-2-(3-hydroxy-4-methoxyphenyl)-3,7-dimethoxychromen</text></g>
<g id="tol_37"><circle class="y" cx="808" cy="238" r="12"/><text x="810" y="241">7,4'-Dihydroxyflavanone</text></g>
<g id="tol_38"><circle class="y" cx="843" cy="238" r="12"/><text x="850" y="241">3',4'-Dimethoxyflavanone</text></g>
<g id="tol_39"><circle class="y" cx="880" cy="233" r="12"/><text x="885" y="241">3',4',7-Trimethoxyflavanone</text></g>
<g id="tol_40"><circle class="y" cx="920" cy="243" r="12"/><text x="920" y="247">Davidioside</text></g>
<g id="tol_41"><circle class="y" cx="972" cy="240" r="12"/><text x="973" y="243">Blumealactone C</text></g>
<g id="tol_42"><circle class="y" cx="848" cy="270" r="12"/><text x="847" y="269">Rhamnetin</text><text x="845" y="279">(7-Methoxyquercetin)</text></g>
<g id="tol_43"><circle class="y" cx="885" cy="267" r="12"/><text x="900" y="271">Pentahydroxyflavanone</text></g>
<g id="tol_44"><circle class="y" cx="953" cy="268" r="12"/><text x="953" y="268">Blumeatin</text><text x="957" y="278">(5,3',5'-trihydroxy-7-methoxydihydroflavone)</text></g>
<g id="tol_45"><circle class="y" cx="915" cy="282" r="12"/><text x="917" y="284">Quercetin</text></g>
<g id="tol_hub"><rect class="h" x="889" y="141" width="24" height="24"/><text x="901" y="156">Tolrestat</text></g>
</g>

<g id="rosiglitazone-nodes">
<g id="ros_1"><circle class="w" cx="1170" cy="25" r="12"/><text x="1165" y="28">Kuguacin Q</text></g>
<g id="ros_2"><circle class="w" cx="1208" cy="22" r="12"/><text x="1205" y="24">Charantoside VII</text></g>
<g id="ros_3"><circle class="w" cx="1250" cy="32" r="12"/><text x="1248" y="30">Momorcharaside</text><text x="1248" y="40">B</text></g>
<g id="ros_4"><circle class="w" cx="1135" cy="42" r="12"/><text x="1135" y="45">Kuguacin H</text></g>
<g id="ros_5"><circle class="w" cx="1203" cy="62" r="12"/><text x="1203" y="65">Charantoside V</text></g>
<g id="ros_6"><circle class="w" cx="1168" cy="68" r="12"/><text x="1168" y="72">Kuguacin R</text></g>
<g id="ros_7"><circle class="w" cx="1240" cy="68" r="12"/><text x="1240" y="72">Kuguacin O</text></g>
<g id="ros_8"><circle class="w" cx="1283" cy="63" r="12"/><text x="1283" y="67">Momordicoside G</text></g>
<g id="ros_9"><circle class="w" cx="1112" cy="72" r="12"/><text x="1112" y="76">Kuguacin N</text></g>
<g id="ros_10"><circle class="w" cx="1093" cy="105" r="12"/><text x="1087" y="109">Charantoside III</text></g>
<g id="ros_11"><circle class="w" cx="1142" cy="102" r="12"/><text x="1142" y="106">Charantoside IV</text></g>
<g id="ros_12"><circle class="w" cx="1257" cy="98" r="12"/><text x="1248" y="103">Kuguacin J</text></g>
<g id="ros_13"><circle class="w" cx="1297" cy="98" r="12"/><text x="1286" y="103">Dehydrocheilanthifoline</text></g>
<g id="ros_14"><circle class="w" cx="1087" cy="143" r="12"/><text x="1090" y="147">Kuguacin K</text></g>
<g id="ros_15"><circle class="w" cx="1127" cy="138" r="12"/><text x="1123" y="142">Kuguacin P</text></g>
<g id="ros_16"><circle class="w" cx="1265" cy="138" r="12"/><text x="1262" y="142">Kuguacin E</text></g>
<g id="ros_17"><circle class="w" cx="1305" cy="137" r="12"/><text x="1300" y="141">Momordicoside A</text></g>
<g id="ros_18"><circle class="w" cx="1147" cy="173" r="12"/><text x="1147" y="173">Momorcharaside</text><text x="1147" y="182">A</text></g>
<g id="ros_19"><circle class="w" cx="1103" cy="182" r="12"/><text x="1103" y="186">Charantoside VIII</text></g>
<g id="ros_20"><circle class="w" cx="1247" cy="172" r="12"/><text x="1247" y="176">Charantoside VI</text></g>
<g id="ros_21"><circle class="w" cx="1293" cy="175" r="12"/><text x="1293" y="179">Momordicoside I</text></g>
<g id="ros_22"><circle class="w" cx="1180" cy="195" r="12"/><text x="1180" y="200">Kuguacin G</text></g>
<g id="ros_23"><circle class="w" cx="1218" cy="193" r="12"/><text x="1218" y="198">Karaviloside III</text></g>
<g id="ros_24"><circle class="w" cx="1270" cy="208" r="12"/><text x="1270" y="211">Kuguacin M</text></g>
<g id="ros_25"><circle class="w" cx="1128" cy="210" r="12"/><text x="1128" y="215">Kuguacin S</text></g>
<g id="ros_26"><circle class="w" cx="1238" cy="230" r="12"/><text x="1238" y="233">Momordicoside C</text></g>
<g id="ros_27"><circle class="w" cx="1160" cy="232" r="12"/><text x="1160" y="236">Momordicoside F1</text></g>
<g id="ros_28"><circle class="w" cx="1198" cy="237" r="12"/><text x="1198" y="240">Kuguacin F</text></g>
<g id="ros_hub"><rect class="h" x="1185" y="118" width="24" height="24"/><text x="1197" y="133">Rosiglitazone</text></g>
</g>

<g id="repaglinide1-nodes">
<g id="rep_1"><circle class="g" cx="98" cy="428" r="12"/><text x="97" y="432">(E)-Citral</text></g>
<g id="rep_2"><circle class="g" cx="143" cy="420" r="12"/><text x="140" y="423">[6]-Gingerdione</text></g>
<g id="rep_3"><circle class="g" cx="180" cy="420" r="12"/><text x="182" y="424">3-Carene</text></g>
<g id="rep_4"><circle class="g" cx="67" cy="457" r="12"/><text x="67" y="460">(S)-6-Gingerol</text></g>
<g id="rep_5"><circle class="g" cx="115" cy="460" r="12"/><text x="122" y="463">[6]-Shogaol</text></g>
<g id="rep_6"><circle class="y" cx="177" cy="458" r="12"/><text x="177" y="462">Blumeaene G</text></g>
<g id="rep_7"><circle class="y" cx="217" cy="448" r="12"/><text x="217" y="451">Blumeaene H</text></g>
<g id="rep_8"><circle class="y" cx="92" cy="490" r="12"/><text x="92" y="494">Blumeaene E</text></g>
<g id="rep_9"><circle class="g" cx="48" cy="495" r="12"/><text x="47" y="500">(+)-Camphor</text></g>
<g id="rep_10"><circle class="g" cx="243" cy="483" r="12"/><text x="243" y="487">Camphene</text></g>
<g id="rep_11"><circle class="g" cx="205" cy="495" r="12"/><text x="207" y="500">(Z)-Citral</text></g>
<g id="rep_12"><circle class="y" cx="240" cy="525" r="12"/><text x="240" y="529">Blumeaene F</text></g>
<g id="rep_13"><circle class="g" cx="47" cy="537" r="12"/><text x="47" y="540">Safrole</text></g>
<g id="rep_14"><circle class="g" cx="87" cy="543" r="12"/><text x="87" y="547">Geraniol</text></g>
<g id="rep_15"><circle class="g" cx="202" cy="545" r="12"/><text x="202" y="549">Citronellol</text></g>
<g id="rep_16"><circle class="g" cx="242" cy="565" r="12"/><text x="242" y="569">p-Cymene</text></g>
<g id="rep_17"><circle class="g" cx="63" cy="578" r="12"/><text x="63" y="582">alpha-Phellandrene</text></g>
<g id="rep_18"><circle class="g" cx="122" cy="578" r="12"/><text x="122" y="582">Nerol</text></g>
<g id="rep_19"><circle class="g" cx="170" cy="577" r="12"/><text x="170" y="581">Gingerenone A</text></g>
<g id="rep_20"><circle class="g" cx="212" cy="592" r="12"/><text x="212" y="596">beta-Cadinene</text></g>
<g id="rep_21"><circle class="g" cx="95" cy="608" r="12"/><text x="95" y="611">Borneol</text></g>
<g id="rep_22"><circle class="g" cx="138" cy="617" r="12"/><text x="138" y="621">Terpinolene</text></g>
<g id="rep_23"><circle class="g" cx="172" cy="618" r="12"/><text x="172" y="621">(R)-linalool</text></g>
<g id="rep_hub"><rect class="h" x="134" y="507" width="24" height="24"/><text x="146" y="522">Repaglinide</text></g>
</g>

<g id="pramlintide-nodes">
<g id="pra_1"><circle class="w" cx="377" cy="418" r="12"/><text x="377" y="422">Goyaglycoside-b</text></g>
<g id="pra_2"><circle class="w" cx="312" cy="448" r="12"/><text x="312" y="452">Karavilagenin C</text></g>
<g id="pra_3"><circle class="w" cx="433" cy="468" r="12"/><text x="433" y="471">Lycopene</text></g>
<g id="pra_4"><circle class="w" cx="305" cy="523" r="12"/><text x="305" y="526">Goyaglycoside-c</text></g>
<g id="pra_5"><circle class="w" cx="425" cy="535" r="12"/><text x="425" y="538">Goyaglycoside-d</text></g>
<g id="pra_6"><circle class="w" cx="367" cy="563" r="12"/><text x="367" y="567">Karaviloside I</text></g>
<g id="pra_hub"><rect class="h" x="356" y="480" width="24" height="24"/><text x="368" y="495">Pramlintide</text></g>
</g>

<g id="phenformin-nodes">
<g id="phe_1"><circle class="y" cx="563" cy="418" r="12"/><text x="563" y="422">3-Octanol</text></g>
<g id="phe_2"><circle class="y" cx="493" cy="465" r="12"/><text x="493" y="469">Bornyl acetate</text></g>
<g id="phe_3"><circle class="y" cx="625" cy="475" r="12"/><text x="624" y="479">Sabinene</text></g>
<g id="phe_4"><circle class="y" cx="517" cy="547" r="12"/><text x="515" y="546">3-Propyl</text><text x="515" y="557">benzaldehyde</text></g>
<g id="phe_5"><circle class="p" cx="595" cy="550" r="12"/><text x="593" y="554">1,3-Diphenylbenzene</text></g>
<g id="phe_hub"><rect class="h" x="546" y="479" width="24" height="24"/><text x="558" y="494">Phenformin</text></g>
</g>

<g id="metformin-nodes">
<g id="met_1"><circle class="y" cx="752" cy="420" r="12"/><text x="752" y="423">Xanthoxylin</text></g>
<g id="met_2"><circle class="y" cx="685" cy="465" r="12"/><text x="685" y="469">Capric acid</text></g>
<g id="met_3"><circle class="y" cx="833" cy="475" r="12"/><text x="833" y="479">Palmitic acid</text></g>
<g id="met_4"><circle class="y" cx="705" cy="548" r="12"/><text x="705" y="551">Eugenol</text></g>
<g id="met_5"><circle class="y" cx="803" cy="552" r="12"/><text x="790" y="555">Dimethoxydurene</text></g>
<g id="met_hub"><rect class="h" x="738" y="479" width="24" height="24"/><text x="750" y="494">Metformin</text></g>
</g>

<g id="repaglinide2-nodes">
<g id="rp2_1"><circle class="w" cx="963" cy="419" r="12"/><text x="963" y="423">Vicine</text></g>
<g id="rp2_2"><circle class="w" cx="894" cy="465" r="12"/><text x="893" y="469">Momordicoside F2</text></g>
<g id="rp2_3"><circle class="p" cx="1026" cy="476" r="12"/><text x="1026" y="480">Guaifenesin</text></g>
<g id="rp2_4"><circle class="g" cx="917" cy="547" r="12"/><text x="917" y="551">(-)-beta-Sitosterol</text></g>
<g id="rp2_5"><circle class="p" cx="995" cy="551" r="12"/><text x="995" y="555">Oxyberberine</text></g>
<g id="rp2_hub"><rect class="h" x="946" y="479" width="24" height="24"/><text x="958" y="494">Repaglinide</text></g>
</g>

<g id="rimonabant-nodes">
<g id="rim_1"><circle class="g" cx="1086" cy="419" r="12"/><text x="1086" y="423">(-)-Camphor</text></g>
<g id="rim_2"><circle class="p" cx="1192" cy="479" r="12"/><text x="1192" y="483">Indole</text></g>
<g id="rim_3"><circle class="y" cx="1113" cy="540" r="12"/><text x="1113" y="544">1,8-Cineole</text></g>
<g id="rim_hub"><rect class="h" x="1114" y="462" width="24" height="24"/><text x="1126" y="477">Rimonabant</text></g>
</g>

<g id="starlix-nodes">
<g id="sta_1"><circle class="p" cx="67" cy="662" r="12"/><text x="58" y="666">4-Hydroxymephenytoin</text></g>
<g id="sta_2"><circle class="y" cx="92" cy="786" r="12"/><text x="85" y="790">dihydroquercetin-4-methylether</text></g>
<g id="sta_hub"><rect class="h" x="76" y="720" width="24" height="24"/><text x="88" y="735">Starlix (TN)</text></g>
</g>
<g id="repaglinide3-nodes">
<g id="rp3_1"><circle class="g" cx="196" cy="683" r="12"/><text x="196" y="686">beta-Pinene</text></g>
<g id="rp3_hub"><rect class="h" x="155" y="721" width="24" height="24"/><text x="167" y="736">Repaglinide</text></g>
</g>
</svg>
